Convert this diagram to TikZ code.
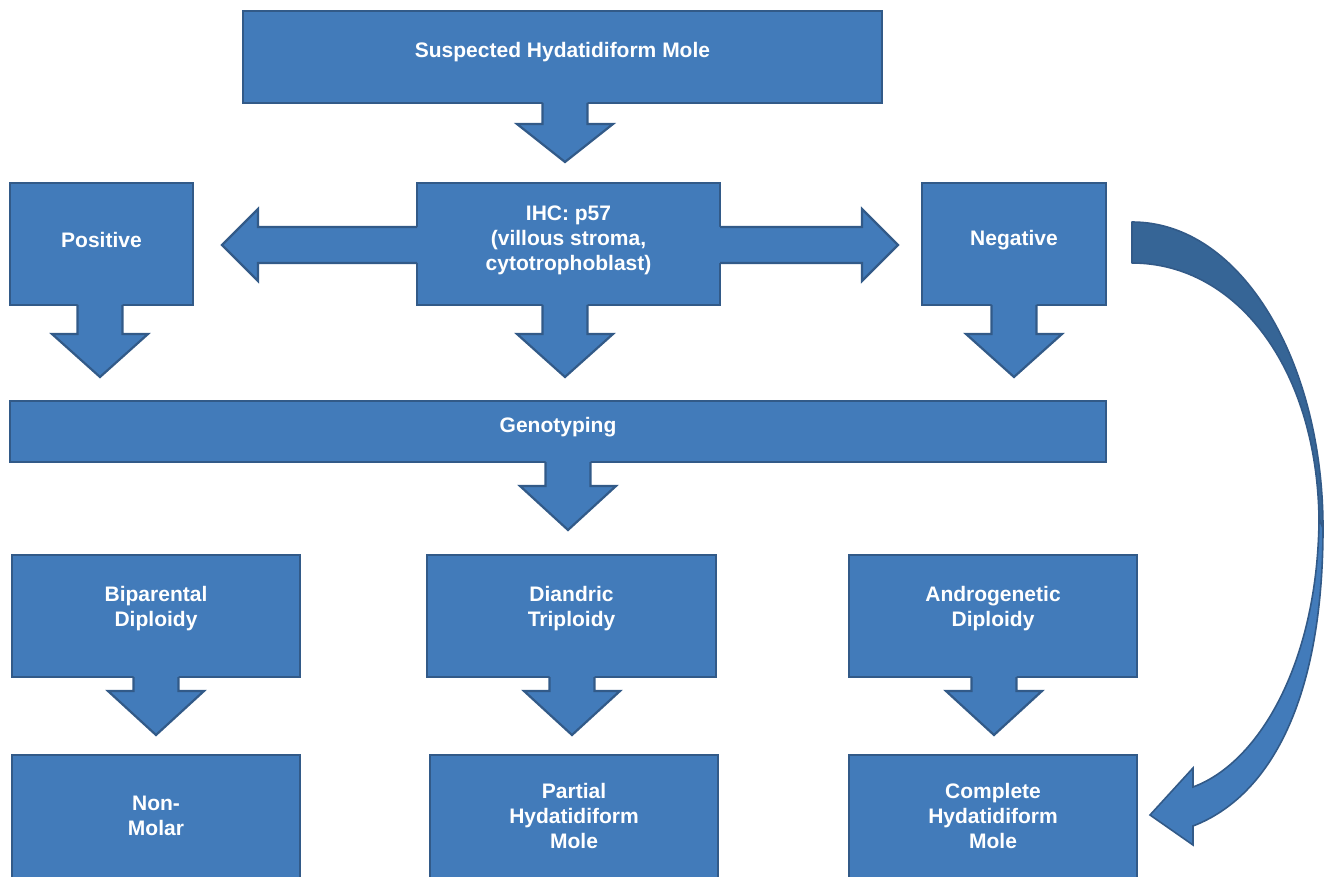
\documentclass[tikz,border=0pt]{standalone}
\usepackage{fontspec}
\setmainfont{Liberation Sans}
\usetikzlibrary{calc}
\definecolor{boxfill}{RGB}{66,123,186}
\definecolor{boxline}{RGB}{50,90,136}
\definecolor{darkfill}{RGB}{54,101,150}
\tikzset{
  box/.style={draw=boxline, fill=boxfill, line width=2.2pt, rectangle, inner sep=0pt, outer sep=0pt},
  lbl/.style={text=white, font=\bfseries\fontsize{21}{25}\selectfont, align=center, inner sep=0pt},
  arrfill/.style={fill=boxfill},
  arrline/.style={draw=boxline, line width=2.2pt, line join=miter},
}
% down block arrow: #1 node, #2 x-offset, #3 shaft length, #4 head length
\newcommand{\blkdown}[4]{%
  \fill[arrfill] ($(#1.south)+(#2-22.5,-3)$) -- ++(0,#3+3) -- ++(-25.5,0) -- ++(48,#4) -- ++(48,-#4) -- ++(-25.5,0) -- ++(0,-#3-3) -- cycle;
  \draw[arrline] ($(#1.south)+(#2-22.5,0)$) -- ++(0,#3) -- ++(-25.5,0) -- ++(48,#4) -- ++(48,-#4) -- ++(-25.5,0) -- ++(0,-#3);
}
\begin{document}
\begin{tikzpicture}[x=1pt,y=-1pt]
\useasboundingbox (0,0) rectangle (1326,877);
\clip (0,0) rectangle (1326,877);

% boxes
\node[box, minimum width=639pt, minimum height=92pt] (top) at (562.5,57) {};
\node[box, minimum width=183pt, minimum height=122pt] (pos) at (101.5,244) {};
\node[box, minimum width=303pt, minimum height=122pt] (ihc) at (568.5,244) {};
\node[box, minimum width=184pt, minimum height=122pt] (neg) at (1014,244) {};
\node[box, minimum width=1096pt, minimum height=61pt] (geno) at (558,431.5) {};
\node[box, minimum width=288pt, minimum height=122pt] (bip) at (156,616) {};
\node[box, minimum width=289pt, minimum height=122pt] (dia) at (571.5,616) {};
\node[box, minimum width=288pt, minimum height=122pt] (and) at (993,616) {};
\node[box, minimum width=288pt, minimum height=124pt] (non) at (156,817) {};
\node[box, minimum width=288pt, minimum height=124pt] (par) at (574,817) {};
\node[box, minimum width=288pt, minimum height=124pt] (com) at (993,817) {};

% horizontal double arrow through IHC
\fill[arrfill] ($(ihc.west)+(3,-17)$) -- ++(-162,0) -- ++(0,-18) -- ++(-36,36) -- ++(36,36) -- ++(0,-18) -- ++(162,0) -- cycle;
\draw[arrline] ($(ihc.west)+(0,-17)$) -- ++(-159,0) -- ++(0,-18) -- ++(-36,36) -- ++(36,36) -- ++(0,-18) -- ++(159,0);
\fill[arrfill] ($(ihc.east)+(-3,-17)$) -- ++(145,0) -- ++(0,-18) -- ++(36,36) -- ++(-36,36) -- ++(0,-18) -- ++(-145,0) -- cycle;
\draw[arrline] ($(ihc.east)+(0,-17)$) -- ++(142,0) -- ++(0,-18) -- ++(36,36) -- ++(-36,36) -- ++(0,-18) -- ++(-142,0);

% down arrows
\blkdown{top}{2.5}{21}{38}
\blkdown{pos}{-1.5}{29}{43}
\blkdown{ihc}{-3.5}{29}{43}
\blkdown{neg}{0}{29}{43}
\blkdown{geno}{10}{24}{44}
\blkdown{bip}{0}{14}{44}
\blkdown{dia}{0.5}{14}{44}
\blkdown{and}{1}{14}{44}

% curved arrow from Negative to Complete Hydatidiform Mole
\coordinate (cTop) at ($(neg.east)+(26,-22)$);
\coordinate (cBot) at ($(neg.east)+(26,19)$);
\coordinate (cTip) at ($(com.east)+(13,-2)$);
\filldraw[darkfill, draw=boxline, line width=1.6pt, line join=round]
  (cTop) .. controls +(110,0) and +(0,-165) .. ++(191,306)
  -- ++(-4,-9) .. controls +(-2,-150) and +(105,0) .. (cBot) -- cycle;
\filldraw[boxfill, draw=boxline, line width=1.6pt, line join=miter]
  ($(cTop)+(191,306)$) .. controls +(0,170) and +(78,-30) .. ($(cTip)+(43,11)$)
  -- ++(0,19) -- (cTip) -- ++(43,-47) -- ++(0,19)
  .. controls +(68,-25) and +(-1,140) .. ($(cTop)+(187,297)$) -- cycle;

% labels
\node[lbl] (topT) at ($(top)+(0,-5)$) {Suspected Hydatidiform Mole};
\node[lbl] (posT) at ($(pos)+(0,-4)$) {Positive};
\node[lbl] (ihcT) at ($(ihc)+(0,-4)$) {IHC: p57\\(villous stroma,\\cytotrophoblast)};
\node[lbl] (negT) at ($(neg)+(0,-4)$) {Negative};
\node[lbl] (genoT) at ($(geno)+(0,-4)$) {Genotyping};
\node[lbl] (bipT) at ($(bip)+(0,-7)$) {Biparental\\Diploidy};
\node[lbl] (diaT) at ($(dia)+(0,-7)$) {Diandric\\Triploidy};
\node[lbl] (andT) at ($(and)+(0,-7)$) {Androgenetic\\Diploidy};
\node[lbl] (nonT) at ($(non)+(0,-1)$) {Non-\\Molar};
\node[lbl] (parT) at ($(par)+(0,-1)$) {Partial\\Hydatidiform\\Mole};
\node[lbl] (comT) at ($(com)+(0,-1)$) {Complete\\Hydatidiform\\Mole};
\end{tikzpicture}
\end{document}
